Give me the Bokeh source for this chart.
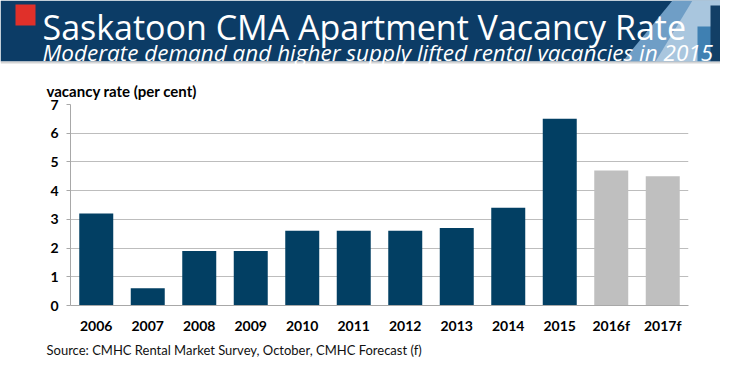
from bokeh.plotting import figure
from bokeh.models import Range1d, FactorRange, ColumnDataSource, FixedTicker, Title
from bokeh.embed import file_html
from bokeh.resources import INLINE
from bokeh.core.properties import value

# ---- data ----
years = ["2006", "2007", "2008", "2009", "2010", "2011", "2012", "2013", "2014", "2015", "2016f", "2017f"]
rates = [3.2, 0.6, 1.9, 1.9, 2.6, 2.6, 2.6, 2.7, 3.4, 6.5, 4.7, 4.5]
is_forecast = [False] * 10 + [True, True]
y_ticks = [0, 1, 2, 3, 4, 5, 6, 7]

title_text = "Saskatoon CMA Apartment Vacancy Rate"
subtitle_text = "Moderate demand and higher supply lifted rental vacancies in 2015"
ylabel_text = "vacancy rate (per cent)"
source_text = "Source: CMHC Rental Market Survey, October, CMHC Forecast (f)"

ACTUAL = "#023f63"
FORECAST = "#bfbfbf"
BANNER = "#0c3c66"

# ---- banner ----
W = 720
BH = 72      # canvas height of the banner figure
BB = 61      # bottom of the blue band
banner = figure(width=W, height=BH, x_range=Range1d(0, W), y_range=Range1d(BH, 0),
                output_backend="svg", toolbar_location=None, min_border=0,
                x_axis_location=None, y_axis_location=None, outline_line_color=None)
banner.grid.visible = False
banner.quad(left=0, right=W, top=0, bottom=BB, color=BANNER, line_color=None)
banner.patch(x=[672, W, W, 622], y=[0, 0, BB, BB], color="#6f9ec6", line_color=None)
banner.patch(x=[692, W, W, 655], y=[0, 0, BB, BB], color="#a9c6de", line_color=None)
banner.quad(left=697, right=711, top=26, bottom=BB, color="#3f80b2", line_color=None)
banner.quad(left=710, right=W, top=5, bottom=BB, color="#123f66", line_color=None)
banner.quad(left=0, right=W, top=BB, bottom=BB + 2, color="#d4d4d4", line_color=None)
banner.quad(left=15, right=35, top=4, bottom=25, color="#e0302a", line_color=None)
banner.text(x=[42], y=[26], text=[title_text], text_color="white",
            text_font=value("Open Sans"), text_font_size="34px", text_baseline="alphabetic")
banner.text(x=[42], y=[52], text=[subtitle_text], text_color="white",
            text_font=value("Open Sans"), text_font_style="italic", text_font_size="22.5px",
            text_baseline="alphabetic")

# ---- chart ----
src = ColumnDataSource(dict(year=years, rate=rates,
                            color=[FORECAST if f else ACTUAL for f in is_forecast]))
p = figure(width=W, height=361 - BH, x_range=FactorRange(*years, range_padding=0),
           y_range=Range1d(0, 7), output_backend="svg", toolbar_location=None,
           min_border_left=70, min_border_right=32, min_border_top=32, min_border_bottom=56,
           outline_line_color=None)
p.vbar(x="year", top="rate", width=0.66, color="color", line_color=None, source=src)

p.xgrid.visible = False
p.ygrid.grid_line_color = "#bdbdbd"
p.ygrid.grid_line_width = 1
p.yaxis.ticker = FixedTicker(ticks=y_ticks)
for ax in (p.xaxis, p.yaxis):
    ax.axis_line_color = "#a8a8a8"
    ax.major_label_text_font = "Lato"
    ax.major_label_text_font_style = "bold"
    ax.major_label_text_font_size = "14px"
    ax.major_label_text_color = "#000000"
    ax.minor_tick_line_color = None
p.yaxis.major_tick_line_color = "#a8a8a8"
p.yaxis.major_tick_out = 4
p.yaxis.major_tick_in = 0
p.yaxis.major_label_standoff = 8
p.xaxis.major_tick_line_color = None
p.xaxis.major_label_standoff = 5

p.title.text = ylabel_text
p.title.align = "left"
p.title.offset = -24
p.title.text_font = "Lato"
p.title.text_font_style = "bold"
p.title.text_font_size = "15px"
p.title.text_color = "#000000"
p.title.standoff = 9

p.add_layout(Title(text=source_text, align="left", offset=-24, text_font="Lato",
                   text_font_style="normal", text_font_size="13px",
                   text_color="#111111", standoff=6), "below")

open("out.html", "w").write(file_html([banner, p], INLINE))
